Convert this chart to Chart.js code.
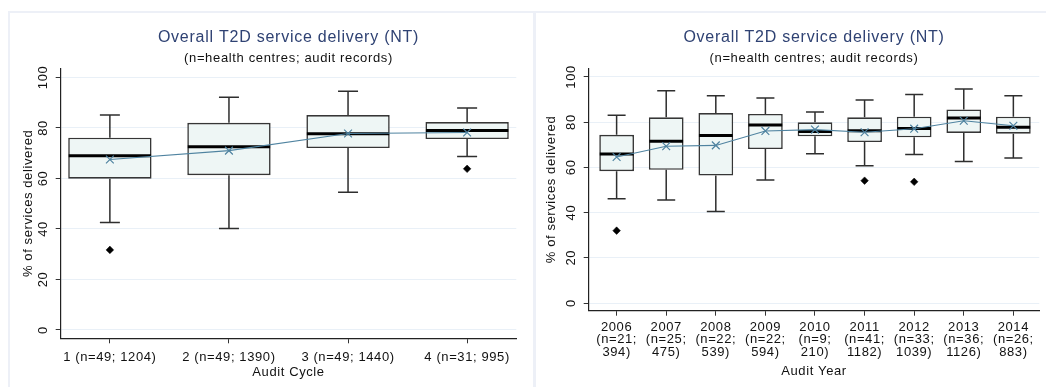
<!DOCTYPE html>
<html>
<head>
<meta charset="utf-8">
<title>Overall T2D service delivery (NT)</title>
<script src="https://cdn.jsdelivr.net/npm/chart.js@4.4.1/dist/chart.umd.min.js"></script>
<style>
  html, body { margin: 0; padding: 0; background: #ffffff; }
  #page { position: relative; width: 1046px; height: 387px; overflow: hidden; background: #ffffff; }
  .rule { position: absolute; background: #edf0f7; }
  .panel { position: absolute; top: 0; width: 523px; height: 387px; }
  .panel canvas { display: block; }
</style>
</head>
<body>
<div id="page">
  <div class="rule" style="left:8px; top:11px; width:1038px; height:2px;"></div>
  <div class="rule" style="left:8px; top:11px; width:2px; height:376px;"></div>
  <div class="rule" style="left:533px; top:11px; width:3px; height:376px;"></div>
  <div class="panel" style="left:0;"><canvas id="cycleChart" width="523" height="387"></canvas></div>
  <div class="panel" style="left:523px;"><canvas id="yearChart" width="523" height="387"></canvas></div>
</div>
<script>
// ---- shared text ----
const chartTitle = 'Overall T2D service delivery (NT)';
const chartSubtitle = '(n=health centres; audit records)';
const yAxisTitle = '% of services delivered';
const yTicks = [0, 20, 40, 60, 80, 100];

// ---- by audit cycle ----
const cycleNumbers = [1, 2, 3, 4];
const cycleLabels = ['1 (n=49; 1204)', '2 (n=49; 1390)', '3 (n=49; 1440)', '4 (n=31; 995)'];
const cycleLowerWhisker = [42.5, 40.2, 54.5, 68.7];
const cycleQ1 = [59.9, 61.3, 72.0, 75.6];
const cycleMedian = [69.0, 72.5, 77.7, 79.0];
const cycleQ3 = [76.1, 82.0, 85.1, 82.3];
const cycleUpperWhisker = [85.1, 92.1, 94.5, 87.9];
const cycleMean = [67.5, 71.0, 77.8, 78.2];
const cycleOutlierAt = [1, 4];
const cycleOutlierValue = [31.7, 63.8];

// ---- by audit year ----
const years = [2006, 2007, 2008, 2009, 2010, 2011, 2012, 2013, 2014];
const yearLabels = [
  ['2006', '(n=21;', '394)'],
  ['2007', '(n=25;', '475)'],
  ['2008', '(n=22;', '539)'],
  ['2009', '(n=22;', '594)'],
  ['2010', '(n=9;', '210)'],
  ['2011', '(n=41;', '1182)'],
  ['2012', '(n=33;', '1039)'],
  ['2013', '(n=36;', '1126)'],
  ['2014', '(n=26;', '883)']
];
const yearLowerWhisker = [46.1, 45.6, 40.5, 54.4, 66.0, 60.7, 65.7, 62.6, 64.1];
const yearQ1 = [58.3, 58.9, 56.4, 68.1, 73.7, 71.2, 73.3, 75.2, 74.9];
const yearMedian = [65.9, 71.5, 74.1, 78.7, 75.8, 76.2, 77.2, 81.8, 77.7];
const yearQ3 = [74.4, 82.1, 84.0, 83.6, 79.9, 82.1, 82.4, 85.6, 82.4];
const yearUpperWhisker = [83.0, 93.9, 91.7, 90.7, 84.5, 89.8, 92.2, 94.7, 91.7];
const yearMean = [64.6, 69.3, 69.7, 76.1, 76.7, 75.5, 77.1, 80.6, 78.4];
const yearOutlierAt = [2006, 2011, 2012];
const yearOutlierValue = [32.0, 54.1, 53.6];

const FONT = '"Liberation Sans", Arial, Helvetica, sans-serif';
Chart.defaults.font.family = FONT;
Chart.defaults.color = '#111111';

// Titles centred over the plot area, plus letter spacing for all axis text
const panelTitles = {
  id: 'panelTitles',
  beforeDraw(chart, args, o) {
    const { ctx, chartArea } = chart;
    const cx = (chartArea.left + chartArea.right) / 2;
    ctx.save();
    ctx.textAlign = 'center';
    ctx.textBaseline = 'middle';
    ctx.letterSpacing = '0.75px';
    ctx.fillStyle = '#2f4273';
    ctx.font = '16px ' + FONT;
    ctx.fillText(o.title, cx, o.titleY);
    ctx.letterSpacing = '0.65px';
    ctx.fillStyle = '#111111';
    ctx.font = '13px ' + FONT;
    ctx.fillText(o.subtitle, cx, o.subtitleY);
    ctx.restore();
    ctx.letterSpacing = '0.6px';
  }
};

// Vertical (rotated) value labels on the y axis
const rotatedYTicks = {
  id: 'rotatedYTicks',
  afterDraw(chart, args, o) {
    const { ctx, chartArea, scales } = chart;
    ctx.save();
    ctx.letterSpacing = '0.6px';
    ctx.font = '13px ' + FONT;
    ctx.fillStyle = '#111111';
    ctx.textAlign = 'center';
    ctx.textBaseline = 'middle';
    scales.y.ticks.forEach(t => {
      const py = scales.y.getPixelForValue(t.value);
      ctx.save();
      ctx.translate(chartArea.left - o.gap, py);
      ctx.rotate(-Math.PI / 2);
      ctx.fillText(String(t.value), 0, 0);
      ctx.restore();
    });
    ctx.restore();
  }
};

// Whiskers, caps and medians drawn onto the box dataset
const boxWhiskers = {
  id: 'boxWhiskers',
  afterDatasetDraw(chart, args, o) {
    if (args.index !== 0) return;
    const { ctx, scales } = chart;
    const meta = chart.getDatasetMeta(0);
    ctx.save();
    meta.data.forEach((bar, i) => {
      const { x, width } = bar.getProps(['x', 'width'], true);
      const yLow = scales.y.getPixelForValue(o.low[i]);
      const yQ1 = scales.y.getPixelForValue(o.q1[i]);
      const yQ3 = scales.y.getPixelForValue(o.q3[i]);
      const yHigh = scales.y.getPixelForValue(o.high[i]);
      const yMed = scales.y.getPixelForValue(o.median[i]);
      ctx.strokeStyle = '#2e2e2e';
      ctx.lineWidth = 1.5;
      ctx.beginPath();
      ctx.moveTo(x, yQ3); ctx.lineTo(x, yHigh);
      ctx.moveTo(x, yQ1); ctx.lineTo(x, yLow);
      ctx.moveTo(x - o.cap / 2, yHigh); ctx.lineTo(x + o.cap / 2, yHigh);
      ctx.moveTo(x - o.cap / 2, yLow); ctx.lineTo(x + o.cap / 2, yLow);
      ctx.stroke();
      ctx.strokeStyle = '#000000';
      ctx.lineWidth = 3;
      ctx.beginPath();
      ctx.moveTo(x - width / 2 + 0.5, yMed); ctx.lineTo(x + width / 2 - 0.5, yMed);
      ctx.stroke();
    });
    ctx.restore();
  }
};

function buildBoxChart(canvasId, s) {
  const boxData = s.at.map((x, i) => ({ x, y: [s.q1[i], s.q3[i]] }));
  const meanData = s.at.map((x, i) => ({ x, y: s.mean[i] }));
  const outlierData = s.outAt.map((x, i) => ({ x, y: s.outVal[i] }));
  return new Chart(document.getElementById(canvasId), {
    type: 'bar',
    data: {
      datasets: [
        {
          type: 'bar',
          data: boxData,
          backgroundColor: '#eef6f5',
          borderColor: '#363636',
          borderWidth: 1.6,
          borderSkipped: false,
          barPercentage: 0.7,
          categoryPercentage: 1.0,
          order: 3
        },
        {
          type: 'scatter',
          data: outlierData,
          showLine: false,
          pointStyle: 'rectRot',
          pointRadius: 3.8,
          backgroundColor: '#000000',
          borderColor: '#000000',
          borderWidth: 0.5,
          order: 2
        },
        {
          type: 'line',
          data: meanData,
          borderColor: '#4f83a0',
          borderWidth: 1.1,
          tension: 0,
          fill: false,
          pointStyle: 'crossRot',
          pointRadius: 5.5,
          pointBorderWidth: 1.2,
          pointBorderColor: '#4f83a0',
          order: 1
        }
      ]
    },
    options: {
      responsive: false,
      animation: false,
      events: [],
      layout: { padding: { top: 68.3, left: 0, right: s.padRight, bottom: 0 } },
      plugins: {
        legend: { display: false },
        tooltip: { enabled: false },
        panelTitles: { title: chartTitle, subtitle: chartSubtitle, titleY: 38, subtitleY: 58 },
        rotatedYTicks: { gap: 17 },
        boxWhiskers: { low: s.low, q1: s.q1, median: s.median, q3: s.q3, high: s.high, cap: s.cap }
      },
      scales: {
        x: {
          type: 'linear',
          min: s.xMin,
          max: s.xMax,
          offset: false,
          afterBuildTicks: sc => { sc.ticks = s.at.map(v => ({ value: v })); },
          afterFit: sc => { sc.height = s.xAxisHeight; },
          ticks: {
            autoSkip: false,
            minRotation: 0,
            maxRotation: 0,
            padding: s.tickPad,
            color: '#111111',
            font: { size: 13, lineHeight: '12.7px' },
            callback: (v, i) => s.labels[i]
          },
          grid: { drawOnChartArea: false, drawTicks: true, tickLength: 5, tickColor: '#333333', tickWidth: 1, offset: false },
          border: { color: '#222222', width: 1.2 },
          title: { display: true, text: s.xTitle, color: '#111111', font: { size: 13, lineHeight: 1.2 }, padding: { top: 0, bottom: s.xTitlePad } }
        },
        y: {
          type: 'linear',
          min: s.yMin,
          max: s.yMax,
          afterBuildTicks: sc => { sc.ticks = yTicks.map(v => ({ value: v })); },
          afterFit: sc => { sc.width = s.yAxisWidth; },
          ticks: { display: false },
          grid: { color: '#e9f0f7', lineWidth: 1, drawTicks: true, tickLength: 5, tickColor: '#333333', tickWidth: 1 },
          border: { color: '#222222', width: 1.2 },
          title: { display: true, text: yAxisTitle, color: '#111111', font: { size: 13, lineHeight: 1.2 }, padding: { top: 20.2, bottom: 0 } }
        }
      }
    },
    plugins: [panelTitles, rotatedYTicks, boxWhiskers]
  });
}

buildBoxChart('cycleChart', {
  at: cycleNumbers, labels: cycleLabels,
  low: cycleLowerWhisker, q1: cycleQ1, median: cycleMedian, q3: cycleQ3, high: cycleUpperWhisker,
  mean: cycleMean, outAt: cycleOutlierAt, outVal: cycleOutlierValue,
  xMin: 0.587, xMax: 4.413, yMin: -3.3, yMax: 103.6,
  yAxisWidth: 60.7, xAxisHeight: 48.7, padRight: 2.3, cap: 20, tickPad: 8,
  xTitle: 'Audit Cycle', xTitlePad: 7
});

buildBoxChart('yearChart', {
  at: years, labels: yearLabels,
  low: yearLowerWhisker, q1: yearQ1, median: yearMedian, q3: yearQ3, high: yearUpperWhisker,
  mean: yearMean, outAt: yearOutlierAt, outVal: yearOutlierValue,
  xMin: 2005.437, xMax: 2014.523, yMin: -3.4, yMax: 103.8,
  yAxisWidth: 65.7, xAxisHeight: 76.3, padRight: 0, cap: 18, tickPad: 5,
  xTitle: 'Audit Year', xTitlePad: 8
});
</script>
</body>
</html>
